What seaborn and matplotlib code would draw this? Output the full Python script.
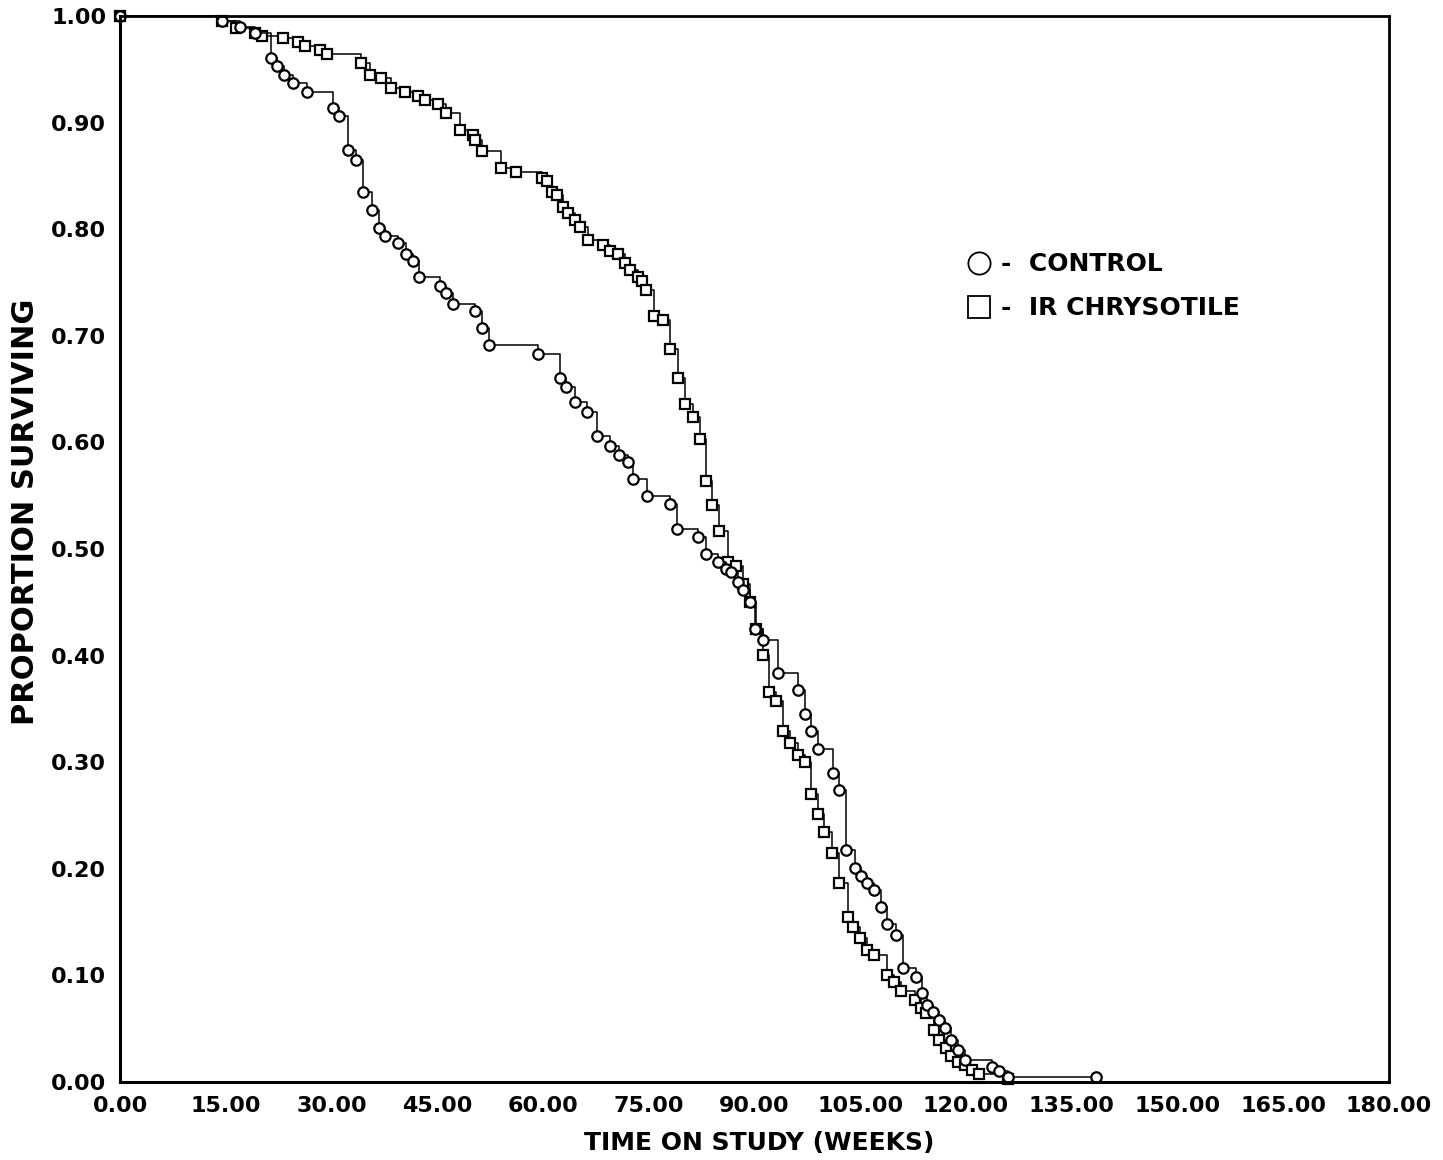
import matplotlib
matplotlib.use("Agg")
import matplotlib.pyplot as plt
from matplotlib.lines import Line2D
from matplotlib.ticker import FormatStrFormatter
import seaborn as sns
import pandas as pd

# Kaplan-Meier step values (weeks, proportion surviving)
control_weeks = [
    0, 14.4, 17.0, 19.1, 21.4, 22.2, 23.3, 24.5, 26.5, 30.2,
    31.0, 32.3, 33.5, 34.5, 35.7, 36.8, 37.6, 39.4, 40.6, 41.5,
    42.4, 45.4, 46.3, 47.2, 50.3, 51.3, 52.4, 59.3, 62.4, 63.3,
    64.5, 66.3, 67.6, 69.5, 70.8, 72.0, 72.7, 74.8, 78.0, 79.0,
    82.0, 83.1, 84.8, 86.0, 86.7, 87.7, 88.3, 89.3, 90.0, 91.2,
    93.3, 96.1, 97.1, 98.0, 99.0, 101.1, 102.0, 103.0, 104.2, 105.1,
    106.0, 107.0, 108.0, 108.8, 110.0, 111.0, 112.9, 113.8, 114.5, 115.3,
    116.2, 117.0, 117.9, 118.8, 119.8, 123.7, 124.7, 125.9, 138.4,
]
control_surv = [
    1.000, 0.995, 0.990, 0.984, 0.961, 0.953, 0.945, 0.937, 0.929, 0.914,
    0.906, 0.874, 0.865, 0.835, 0.818, 0.801, 0.794, 0.787, 0.777, 0.770,
    0.755, 0.747, 0.740, 0.730, 0.723, 0.707, 0.691, 0.683, 0.660, 0.652,
    0.638, 0.629, 0.606, 0.597, 0.588, 0.582, 0.566, 0.550, 0.542, 0.519,
    0.511, 0.495, 0.488, 0.481, 0.478, 0.469, 0.462, 0.450, 0.425, 0.415,
    0.384, 0.368, 0.345, 0.329, 0.312, 0.290, 0.274, 0.218, 0.201, 0.193,
    0.187, 0.180, 0.164, 0.148, 0.138, 0.107, 0.099, 0.084, 0.072, 0.066,
    0.058, 0.051, 0.039, 0.030, 0.021, 0.014, 0.010, 0.005, 0.005,
]

chrysotile_weeks = [
    0, 14.4, 16.5, 19.1, 20.2, 23.1, 25.2, 26.2, 28.4, 29.3,
    34.2, 35.4, 37.0, 38.5, 40.4, 42.3, 43.3, 45.1, 46.3, 48.2,
    50.0, 50.3, 51.3, 54.0, 56.2, 59.8, 60.5, 61.2, 62.0, 62.8,
    63.5, 64.5, 65.2, 66.4, 68.5, 69.5, 70.6, 71.6, 72.4, 73.4,
    74.1, 74.6, 75.8, 77.0, 78.0, 79.1, 80.1, 81.2, 82.2, 83.1,
    84.0, 85.0, 86.2, 87.4, 88.3, 89.3, 90.2, 91.2, 92.1, 93.0,
    94.0, 95.0, 96.1, 97.1, 98.0, 99.0, 99.9, 101.0, 102.0, 103.2,
    103.9, 105.0, 106.0, 107.0, 108.8, 109.8, 110.8, 112.7, 113.6, 114.3,
    115.5, 116.2, 117.1, 117.9, 118.8, 119.8, 120.9, 121.9, 126.0,
]
chrysotile_surv = [
    1.000, 0.995, 0.989, 0.984, 0.981, 0.979, 0.976, 0.972, 0.968, 0.964,
    0.956, 0.945, 0.942, 0.932, 0.929, 0.925, 0.921, 0.917, 0.909, 0.893,
    0.888, 0.884, 0.873, 0.857, 0.854, 0.848, 0.845, 0.835, 0.832, 0.821,
    0.815, 0.809, 0.802, 0.790, 0.785, 0.780, 0.777, 0.768, 0.762, 0.755,
    0.751, 0.743, 0.719, 0.715, 0.688, 0.660, 0.636, 0.624, 0.603, 0.564,
    0.541, 0.517, 0.488, 0.484, 0.467, 0.450, 0.425, 0.401, 0.366, 0.357,
    0.329, 0.318, 0.307, 0.300, 0.270, 0.251, 0.235, 0.215, 0.187, 0.155,
    0.145, 0.135, 0.124, 0.119, 0.100, 0.094, 0.085, 0.077, 0.069, 0.065,
    0.049, 0.039, 0.032, 0.024, 0.019, 0.016, 0.011, 0.008, 0.003,
]

x_ticks = [0, 15, 30, 45, 60, 75, 90, 105, 120, 135, 150, 165, 180]
y_ticks = [0.0, 0.1, 0.2, 0.3, 0.4, 0.5, 0.6, 0.7, 0.8, 0.9, 1.0]

sns.set_style("white")
plt.rcParams["font.family"] = ["DejaVu Sans"]
plt.rcParams["font.weight"] = "bold"
for key in ["text.color", "axes.labelcolor", "xtick.color", "ytick.color",
            "axes.edgecolor"]:
    plt.rcParams[key] = "black"

ctrl = pd.DataFrame({"weeks": control_weeks, "surv": control_surv})
chry = pd.DataFrame({"weeks": chrysotile_weeks, "surv": chrysotile_surv})

fig = plt.figure(figsize=(14.43, 11.6), dpi=100)
ax = fig.add_axes([0.0832, 0.0672, 0.8794, 0.919])

mk = dict(color="black", linewidth=1.1, drawstyle="steps-post",
          markerfacecolor="white", markeredgecolor="black",
          markeredgewidth=1.6, markersize=7.5, estimator=None,
          sort=False, clip_on=False)
sns.lineplot(data=chry, x="weeks", y="surv", marker="s", ax=ax, **mk)
sns.lineplot(data=ctrl, x="weeks", y="surv", marker="o", ax=ax, **mk)

ax.set_xlim(0, 180)
ax.set_ylim(0, 1.0)
ax.set_xticks(x_ticks)
ax.set_yticks(y_ticks)
ax.xaxis.set_major_formatter(FormatStrFormatter("%.2f"))
ax.yaxis.set_major_formatter(FormatStrFormatter("%.2f"))
ax.tick_params(axis="both", direction="out", length=6, width=1.5,
               labelsize=16, color="black", labelcolor="black", pad=4)
for lab in ax.get_xticklabels() + ax.get_yticklabels():
    lab.set_fontweight("bold")

for side in ["left", "bottom"]:
    ax.spines[side].set_linewidth(2.2)
for side in ["top", "right"]:
    ax.spines[side].set_linewidth(2.0)
for s in ax.spines.values():
    s.set_color("black")
    s.set_visible(True)

ax.set_xlabel("TIME ON STUDY (WEEKS)", fontsize=18, fontweight="bold",
              color="black")
ax.set_ylabel("PROPORTION SURVIVING", fontsize=22, fontweight="bold",
              color="black")
ax.xaxis.set_label_coords(0.504, -0.046)
ax.yaxis.set_label_coords(-0.063, 0.535)

handles = [
    Line2D([], [], linestyle="none", marker="o", markersize=16,
           markerfacecolor="white", markeredgecolor="black", markeredgewidth=1.3),
    Line2D([], [], linestyle="none", marker="s", markersize=16,
           markerfacecolor="white", markeredgecolor="black", markeredgewidth=1.3),
]
leg = ax.legend(handles, ["-  CONTROL", "-  IR CHRYSOTILE"], loc="upper left",
                bbox_to_anchor=(0.657, 0.79), frameon=False, handlelength=1.0,
                handletextpad=0.4, labelspacing=0.8, borderpad=0,
                prop={"size": 18, "weight": "bold"})
for t in leg.get_texts():
    t.set_color("black")

fig.savefig("out.png", dpi=100)
